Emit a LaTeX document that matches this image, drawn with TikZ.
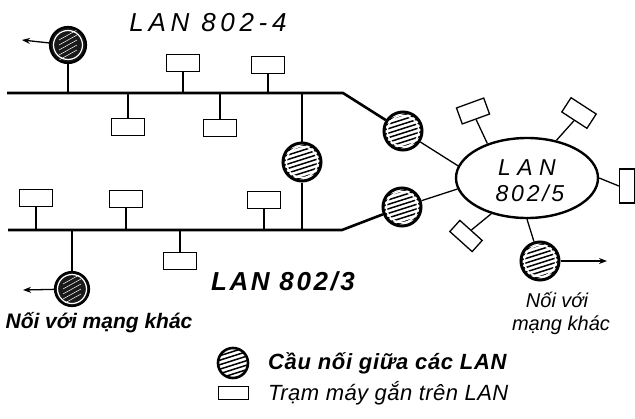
\documentclass[tikz,border=0pt]{standalone}
\usepackage{fontspec}
\setmainfont{Liberation Sans}
\usetikzlibrary{shapes.geometric,arrows.meta}
\begin{document}
\begin{tikzpicture}[x=1pt,y=-1pt,
  bus/.style={line width=2.6pt},
  link/.style={line width=1.3pt},
  stn/.style={draw, rectangle, line width=1.3pt, minimum width=33pt, minimum height=17pt, inner sep=0pt},
  brg/.style={circle, draw, line width=3pt, minimum size=38pt, inner sep=0pt,
    path picture={
      \foreach \k in {-16,-11.5,...,17}
        \draw[line width=1.5pt, shift={(path picture bounding box.center)}] (-22,\k+7) -- (22,\k-7);
      \draw[white, line width=1.4pt] (path picture bounding box.center) circle (15.6pt);
    }},
  gate/.style={circle, draw, line width=2.2pt, minimum size=36pt, inner sep=0pt, fill=black!90,
    path picture={
      \foreach \k in {-10,-5,...,10}
        \draw[white, line width=0.5pt, shift={(path picture bounding box.center)}] (-9,\k+5) -- (9,\k-5);
      \draw[white, line width=1.2pt] (path picture bounding box.center) circle (14.5pt);
    }},
  tip/.style={link, -{Stealth[length=8pt,width=6pt]}},
  lbl/.style={inner sep=0pt},
]
\useasboundingbox (0,0) rectangle (635,418);
\fill[white] (0,0) rectangle (635,418);

% ---- buses
\coordinate (t0) at (7,93);
\coordinate (t1) at (343,93);
\coordinate (b0) at (8,230);
\coordinate (b1) at (342,230);

% ---- bridges
\node[brg] (br1) at (403,131) {};
\node[brg] (br2) at (402,207) {};
\node[brg] (brm) at (302,162) {};
\node[brg] (br3) at (540,261) {};
\node[gate] (g1) at (68,45) {};
\node[gate, minimum size=34pt] (g2) at (72,289) {};

% ---- LAN 802/5 ring
\node[ellipse, draw, line width=2.4pt, minimum width=142pt, minimum height=80pt] (ring) at (527,178) {};
\node[lbl, font={\fontsize{23}{23}\selectfont\itshape\addfontfeature{LetterSpace=28}}] (ra) at (527,168) {LAN};
\node[lbl, font={\fontsize{23}{23}\selectfont\itshape\addfontfeature{LetterSpace=12}}] (rb) at (530,193) {802/5};

\draw[bus] (t0) -- (t1) -- (br1);
\draw[bus] (b0) -- (b1) -- (br2);
\draw[link] (br1) -- (ring.170);
\draw[link] (br2) -- (ring.189);
\draw[link] (brm.north) -- (brm.north |- t0);
\draw[link] (brm.south) -- (brm.south |- b0);
\draw[link] (ring.south) -- (br3);
\draw[link] (g1.south) -- (g1.south |- t0);
\draw[link] (g2.north) -- (g2.north |- b0);

% ---- arrows to other networks
\coordinate (a1) at (22,40);
\coordinate (a2) at (23,290);
\coordinate (a3) at (607,261);
\draw[tip] (g1) -- (a1);
\draw[tip] (g2) -- (a2);
\draw[tip] (br3) -- (a3);

% ---- stations on LAN 802-4
\node[stn] (s1) at (183,63) {};
\node[stn] (s2) at (268,65) {};
\node[stn] (s3) at (128,127) {};
\node[stn] (s4) at (220,128) {};
\draw[link] (s1.south) -- (s1.south |- t0);
\draw[link] (s2.south) -- (s2.south |- t0);
\draw[link] (s3.north) -- (s3.north |- t0);
\draw[link] (s4.north) -- (s4.north |- t0);

% ---- stations on LAN 802/3
\node[stn] (s5) at (36,198) {};
\node[stn] (s6) at (126,199) {};
\node[stn] (s7) at (264,200) {};
\node[stn] (s8) at (180,261) {};
\draw[link] (s5.south) -- (s5.south |- b0);
\draw[link] (s6.south) -- (s6.south |- b0);
\draw[link] (s7.south) -- (s7.south |- b0);
\draw[link] (s8.north) -- (s8.north |- b0);

% ---- stations on LAN 802/5
\node[stn, minimum width=29pt, rotate=20] (r1) at (473,111) {};
\node[stn, minimum width=30pt, rotate=-33] (r2) at (579,113) {};
\node[stn, minimum width=34pt, minimum height=15pt, rotate=90] (r3) at (627,186) {};
\node[stn, minimum width=30pt, minimum height=15pt, rotate=-42] (r4) at (466,236) {};
\draw[link] (r1.south) -- (ring.139);
\draw[link] (r2.south) -- (ring.52);
\draw[link] (r3.north) -- (ring.east);
\draw[link] (r4.north) -- (ring.225);

% ---- labels
\node[lbl, font={\fontsize{26}{26}\selectfont\itshape\addfontfeature{LetterSpace=18}}] (n4) at (208,23) {LAN 802-4};
\node[lbl, font={\fontsize{26}{26}\selectfont\bfseries\itshape\addfontfeature{LetterSpace=10}}] (n3) at (283,281) {LAN 802/3};
\node[lbl, font={\fontsize{21}{21}\selectfont\bfseries\itshape}] (o1) at (99,323) {Nối với mạng khác};
\node[lbl, font={\fontsize{20}{20}\selectfont\itshape}] (o2) at (557,300) {Nối với};
\node[lbl, font={\fontsize{20}{20}\selectfont\itshape}] (o3) at (561,325) {mạng khác};

% ---- legend
\node[brg, minimum size=30pt, line width=2.6pt] (kb) at (233,363) {};
\node[stn, minimum width=30pt, minimum height=13pt, line width=1pt] (ks) at (233,393) {};
\node[lbl, anchor=west, font={\fontsize{22}{22}\selectfont\bfseries\itshape\addfontfeature{LetterSpace=3}}] (kt1) at (268,363) {Cầu nối giữa các LAN};
\node[lbl, anchor=west, font={\fontsize{22}{22}\selectfont\itshape\addfontfeature{LetterSpace=2}}] (kt2) at (268,393) {Trạm máy gắn trên LAN};
\end{tikzpicture}
\end{document}
